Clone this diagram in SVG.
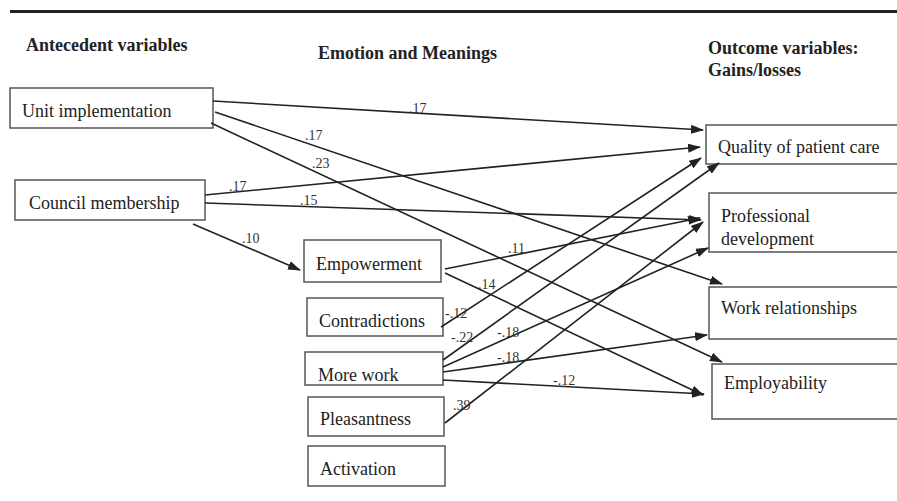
<svg xmlns="http://www.w3.org/2000/svg" width="897" height="501" viewBox="0 0 897 501">
<style>
.box{fill:#fff;stroke:#555;stroke-width:1.5}
.t{font-family:"Liberation Serif","Times New Roman",serif;font-size:18px;fill:#222}
.h{font-family:"Liberation Serif","Times New Roman",serif;font-size:18px;font-weight:bold;fill:#222}
.l{font-family:"Liberation Serif","Times New Roman",serif;font-size:14px;fill:#333}
.c line{stroke:#222;stroke-width:1.6;marker-end:url(#ah)}
</style>
<defs>
<marker id="ah" markerUnits="userSpaceOnUse" markerWidth="13" markerHeight="9" refX="12" refY="4.5" orient="auto">
<path d="M0,0 L13,4.5 L0,9 Z" fill="#222"/>
</marker>
</defs>
<rect x="0" y="0" width="897" height="501" fill="#fff"/>
<line x1="10" y1="11.5" x2="897" y2="11.5" stroke="#222" stroke-width="3"/>
<text class="h" x="26" y="51">Antecedent variables</text>
<text class="h" x="318" y="59">Emotion and Meanings</text>
<text class="h" x="708" y="54">Outcome variables:</text>
<text class="h" x="708" y="76">Gains/losses</text>

<g id="unit"><rect class="box" x="10" y="88" width="203" height="40"/><text class="t" x="22" y="117">Unit implementation</text></g>
<g id="council"><rect class="box" x="15" y="180" width="190" height="40"/><text class="t" x="29" y="209">Council membership</text></g>
<g id="empowerment"><rect class="box" x="304" y="240" width="137" height="42"/><text class="t" x="316" y="270">Empowerment</text></g>
<g id="contradictions"><rect class="box" x="307" y="298" width="136" height="38"/><text class="t" x="319" y="327">Contradictions</text></g>
<g id="morework"><rect class="box" x="305" y="352" width="138" height="33"/><text class="t" x="318" y="381">More work</text></g>
<g id="pleasantness"><rect class="box" x="308" y="397" width="136" height="39"/><text class="t" x="320" y="425">Pleasantness</text></g>
<g id="activation"><rect class="box" x="308" y="446" width="137" height="40"/><text class="t" x="320" y="475">Activation</text></g>

<g id="quality"><rect class="box" x="706" y="125" width="200" height="39"/><text class="t" x="718" y="153">Quality of patient care</text></g>
<g id="professional"><rect class="box" x="709" y="193" width="200" height="59"/><text class="t" x="721" y="222">Professional</text><text class="t" x="721" y="245">development</text></g>
<g id="workrel"><rect class="box" x="709" y="287" width="200" height="52"/><text class="t" x="721" y="314">Work relationships</text></g>
<g id="employ"><rect class="box" x="712" y="364" width="200" height="55"/><text class="t" x="724" y="389">Employability</text></g>

<g id="connectors" class="c">
<line x1="213" y1="101" x2="703" y2="130"/>
<line x1="215" y1="112" x2="722" y2="284"/>
<line x1="211" y1="123" x2="722" y2="362"/>
<line x1="205" y1="195" x2="700" y2="147"/>
<line x1="205" y1="203" x2="701" y2="220"/>
<line x1="193" y1="224" x2="300" y2="270"/>
<line x1="445" y1="269" x2="700" y2="218"/>
<line x1="445" y1="273" x2="703" y2="395"/>
<line x1="441" y1="327" x2="701" y2="158"/>
<line x1="443" y1="360" x2="719" y2="163"/>
<line x1="443" y1="367" x2="708" y2="248"/>
<line x1="443" y1="372" x2="707" y2="335"/>
<line x1="443" y1="380" x2="704" y2="394"/>
<line x1="445" y1="423" x2="703" y2="222"/>
</g>
<g id="labels">
<text class="l" x="409" y="113">.17</text>
<text class="l" x="305" y="140">.17</text>
<text class="l" x="312" y="168">.23</text>
<text class="l" x="229" y="191">.17</text>
<text class="l" x="300" y="205">.15</text>
<text class="l" x="242" y="243">.10</text>
<text class="l" x="508" y="253">.11</text>
<text class="l" x="478" y="289">.14</text>
<text class="l" x="445" y="318">-.12</text>
<text class="l" x="451" y="342">-.22</text>
<text class="l" x="497" y="337">-.18</text>
<text class="l" x="497" y="362">-.18</text>
<text class="l" x="553" y="385">-.12</text>
<text class="l" x="453" y="410">.39</text>
</g>
</svg>
